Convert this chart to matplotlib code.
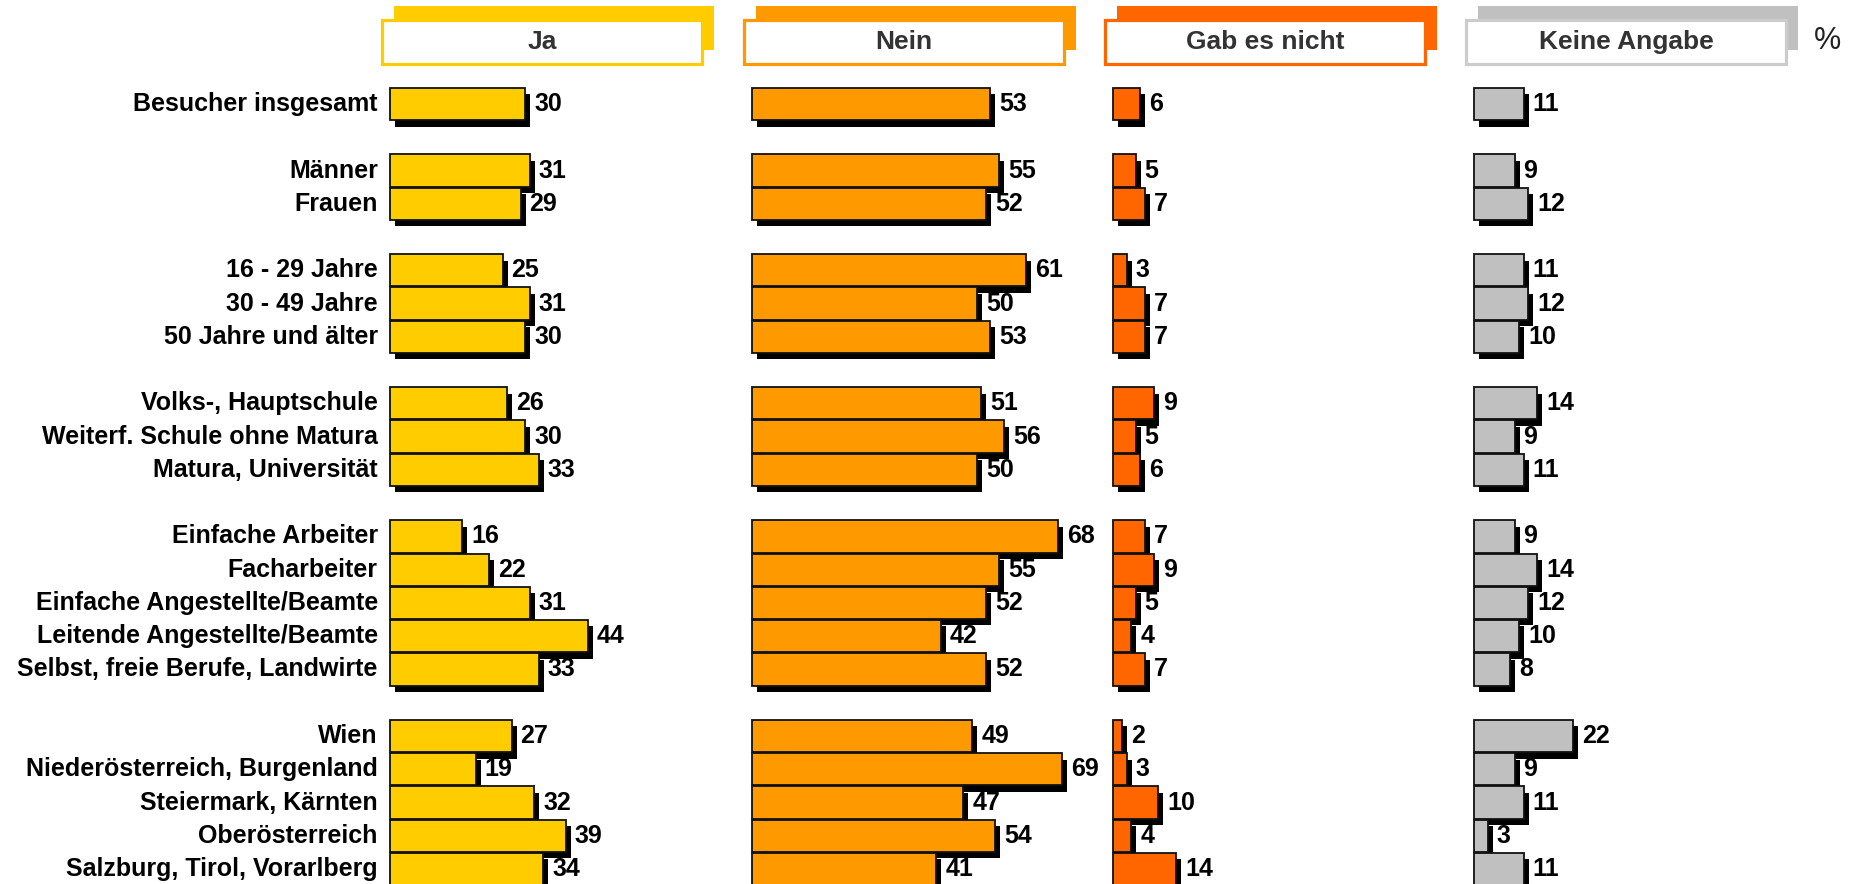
import matplotlib
matplotlib.use("Agg")
import matplotlib.pyplot as plt
import matplotlib.patheffects as pe
from matplotlib.patches import Rectangle

plt.rcParams['font.family'] = ['Liberation Sans', 'DejaVu Sans']

# Daten (Prozent)
labels = [
    "Besucher insgesamt",
    "Männer", "Frauen",
    "16 - 29 Jahre", "30 - 49 Jahre", "50 Jahre und älter",
    "Volks-, Hauptschule", "Weiterf. Schule ohne Matura", "Matura, Universität",
    "Einfache Arbeiter", "Facharbeiter", "Einfache Angestellte/Beamte",
    "Leitende Angestellte/Beamte", "Selbst, freie Berufe, Landwirte",
    "Wien", "Niederösterreich, Burgenland", "Steiermark, Kärnten",
    "Oberösterreich", "Salzburg, Tirol, Vorarlberg",
]
group_sizes = [1, 2, 3, 3, 5, 5]

ja = [30, 31, 29, 25, 31, 30, 26, 30, 33, 16, 22, 31, 44, 33, 27, 19, 32, 39, 34]
nein = [53, 55, 52, 61, 50, 53, 51, 56, 50, 68, 55, 52, 42, 52, 49, 69, 47, 54, 41]
gab_nicht = [6, 5, 7, 3, 7, 7, 9, 5, 6, 7, 9, 5, 4, 7, 2, 3, 10, 4, 14]
keine = [11, 9, 12, 11, 12, 10, 14, 9, 11, 9, 14, 12, 10, 8, 22, 9, 11, 3, 11]

series = [
    ("Ja", ja, "#FFCC00", "#FFCC00"),
    ("Nein", nein, "#FF9900", "#FF9900"),
    ("Gab es nicht", gab_nicht, "#FF6600", "#FF6600"),
    ("Keine Angabe", keine, "#C0C0C0", "#CCCCCC"),
]
col_offsets = [0, 80.4, 160.7, 240.9]

# Zeilenpositionen mit Leerzeile zwischen den Gruppen
ypos = []
slot = 0
for size in group_sizes:
    for i in range(size):
        ypos.append(slot)
        slot += 1
    slot += 1

fig = plt.figure(figsize=(18.54, 8.84), dpi=100)
ax = fig.add_axes([0, 0, 1, 1])
ax.set_xlim(-86.67, 325.33)
ax.set_ylim(23.45, -3.127)
ax.axis('off')

shadow = [pe.SimplePatchShadow(offset=(3.6, -4.6), shadow_rgbFace='black', alpha=1.0),
          pe.Normal()]

for (name, vals, color, border), off in zip(series, col_offsets):
    bars = ax.barh(ypos, vals, left=off, height=0.97, color=color,
                   edgecolor='#111111', linewidth=1.3, zorder=3)
    for b in bars:
        b.set_path_effects(shadow)
    for y, v in zip(ypos, vals):
        ax.text(off + v + 2.0, y, str(v), ha='left', va='center',
                fontsize=18, fontweight='bold', color='black', zorder=5)

    # Kopfzeile mit Schattenbalken
    bx, bw = off - 1.8, 71.1
    btop, bbot = -2.526, -1.203
    ax.add_patch(Rectangle((bx + 2.67, btop - 0.42), bw, bbot - btop,
                           facecolor=color, edgecolor='none', zorder=1))
    ax.add_patch(Rectangle((bx, btop), bw, bbot - btop, facecolor='white',
                           edgecolor=border, linewidth=2.3, zorder=2))
    ax.text(bx + bw / 2, (btop + bbot) / 2, name, ha='center', va='center',
            fontsize=19, fontweight='bold', color='#333333', zorder=4)

ax.text(319.5, -1.9, "%", ha='center', va='center', fontsize=22, color='#222222')

for y, lab in zip(ypos, labels):
    ax.text(-2.7, y, lab, ha='right', va='center', fontsize=18,
            fontweight='bold', color='black')

fig.savefig("out.png", dpi=100)
